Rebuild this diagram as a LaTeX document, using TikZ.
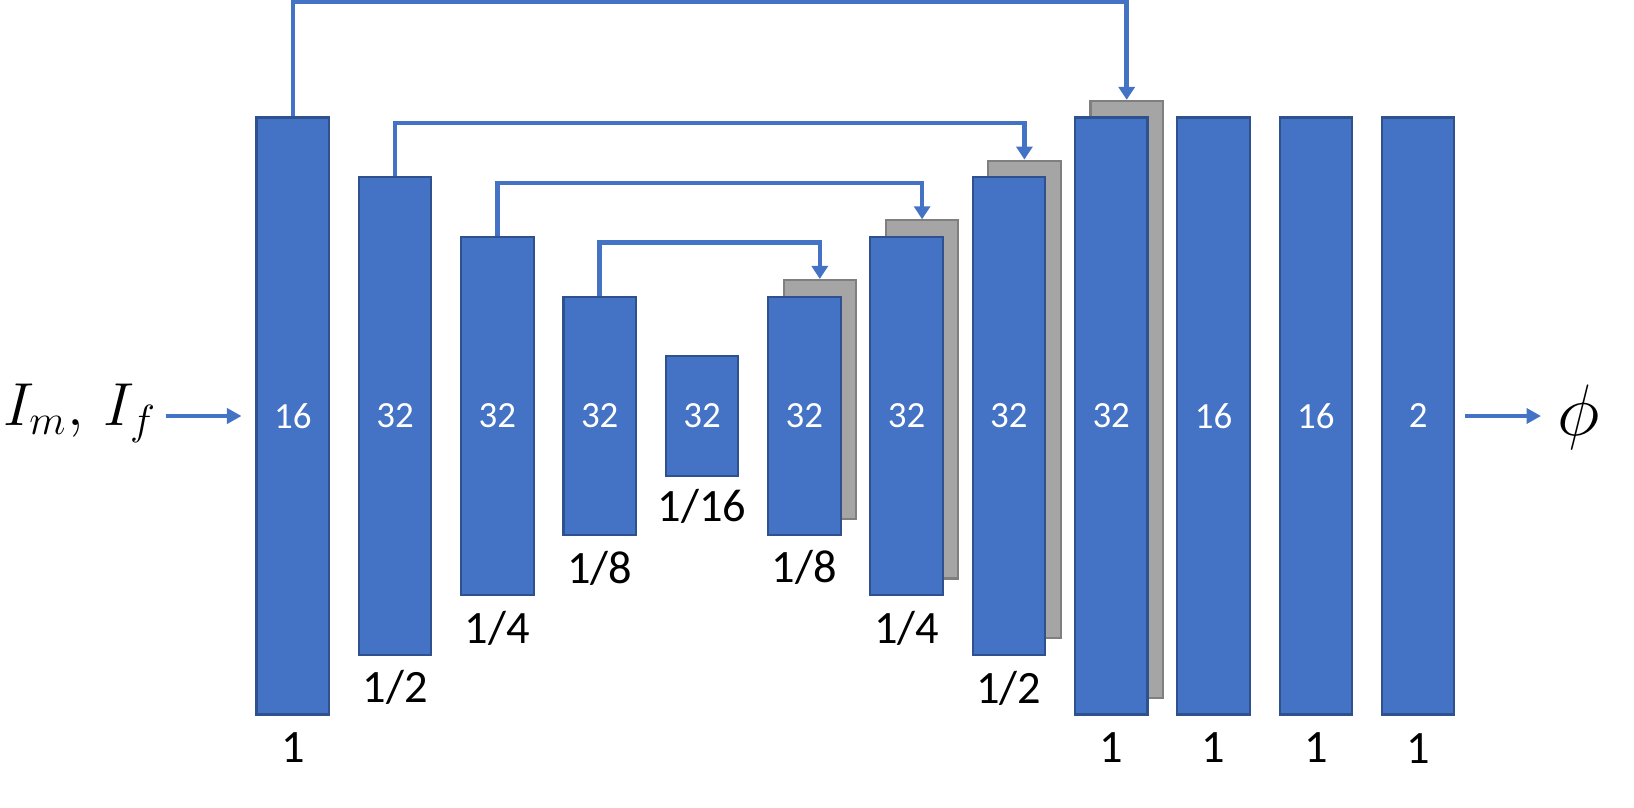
\documentclass[tikz,border=0pt]{standalone}
\usepackage{fontspec}
\setsansfont{Carlito}
\usetikzlibrary{arrows.meta}
\definecolor{unetblue}{HTML}{4472C4}
\definecolor{unetedge}{HTML}{2F528F}
\definecolor{catgray}{HTML}{A5A5A5}
\definecolor{catedge}{HTML}{7F7F7F}
\tikzset{
	conv/.style = {draw = unetedge, fill = unetblue, line width = 0.6pt, minimum width = 0.725cm, inner sep = 0pt, text = white, font = \sffamily\fontsize{10.5}{12}\selectfont},
	concat/.style = {draw = catedge, fill = catgray, line width = 0.6pt, minimum width = 0.725cm, inner sep = 0pt},
	res/.style = {font = \sffamily\fontsize{13.2}{15}\selectfont, anchor = base, inner sep = 0pt},
	skip/.style = {draw = unetblue, line width = 1.3pt, -{Triangle[length = 0.13cm, width = 0.16cm]}},
	flow/.style = {draw = unetblue, line width = 1.3pt, -{Triangle[length = 0.145cm, width = 0.15cm]}},
}
\begin{document}
\begin{tikzpicture}
		\useasboundingbox (0,0) rectangle (16.34,8.07);
		% concatenated copies behind the decoder
		\node[concat, minimum height = 2.388cm] (cat4) at (8.198,4.076) {};
		\node[concat, minimum height = 3.582cm] (cat3) at (9.221,4.076) {};
		\node[concat, minimum height = 4.776cm] (cat2) at (10.244,4.076) {};
		\node[concat, minimum height = 5.97cm] (cat1) at (11.267,4.076) {};
		% encoder
		\node[conv, minimum height = 5.97cm] (d1) at (2.928,3.91) {16};
		\node[conv, minimum height = 4.776cm] (d2) at (3.951,3.91) {32};
		\node[conv, minimum height = 3.582cm] (d3) at (4.974,3.91) {32};
		\node[conv, minimum height = 2.388cm] (d4) at (5.997,3.91) {32};
		\node[conv, minimum height = 1.194cm] (bn) at (7.02,3.91) {32};
		% decoder
		\node[conv, minimum height = 2.388cm] (u4) at (8.043,3.91) {32};
		\node[conv, minimum height = 3.582cm] (u3) at (9.066,3.91) {32};
		\node[conv, minimum height = 4.776cm] (u2) at (10.089,3.91) {32};
		\node[conv, minimum height = 5.97cm] (u1) at (11.112,3.91) {32};
		\node[conv, minimum height = 5.97cm] (c1) at (12.135,3.91) {16};
		\node[conv, minimum height = 5.97cm] (c2) at (13.158,3.91) {16};
		\node[conv, minimum height = 5.97cm] (c3) at (14.181,3.91) {2};
		% resolutions
		\node[res] (rd1) at ([yshift = -4.7mm]d1.south) {1};
		\node[res] (rd2) at ([yshift = -4.7mm]d2.south) {1/2};
		\node[res] (rd3) at ([yshift = -4.7mm]d3.south) {1/4};
		\node[res] (rd4) at ([yshift = -4.7mm]d4.south) {1/8};
		\node[res] (rbn) at ([yshift = -4.5mm]bn.south) {1/16};
		\node[res] (ru4) at ([yshift = -4.6mm]u4.south) {1/8};
		\node[res] (ru3) at ([yshift = -4.7mm]u3.south) {1/4};
		\node[res] (ru2) at ([yshift = -4.8mm]u2.south) {1/2};
		\node[res] (ru1) at ([yshift = -4.7mm]u1.south) {1};
		\node[res] (rc1) at ([yshift = -4.7mm]c1.south) {1};
		\node[res] (rc2) at ([yshift = -4.7mm]c2.south) {1};
		\node[res] (rc3) at ([yshift = -4.8mm]c3.south) {1};
		% input and output
		\node[anchor = base east, inner sep = 0pt, font = \fontsize{18.5}{22}\selectfont] (in) at (1.575,3.82) {$I_m,\,I_f$};
		\node[anchor = base west, inner sep = 0pt, font = \fontsize{21}{24}\selectfont] (out) at (15.57,3.72) {$\phi$};
		\draw[flow, shorten < = 0.08cm, shorten > = 0.14cm] (in.east |- d1.west) -- (d1.west);
		\draw[flow, shorten < = 0.1cm, shorten > = 0.16cm] (c3.east) -- (out.west |- c3.east);
		% skip connections
		\draw[skip] (d1.north) -- ++(0,1.15) -| (cat1.north);
		\draw[skip] (d2.north) -- ++(0,0.53) -| (cat2.north);
		\draw[skip] (d3.north) -- ++(0,0.53) -| (cat3.north);
		\draw[skip] (d4.north) -- ++(0,0.53) -| (cat4.north);
\end{tikzpicture}
\end{document}
